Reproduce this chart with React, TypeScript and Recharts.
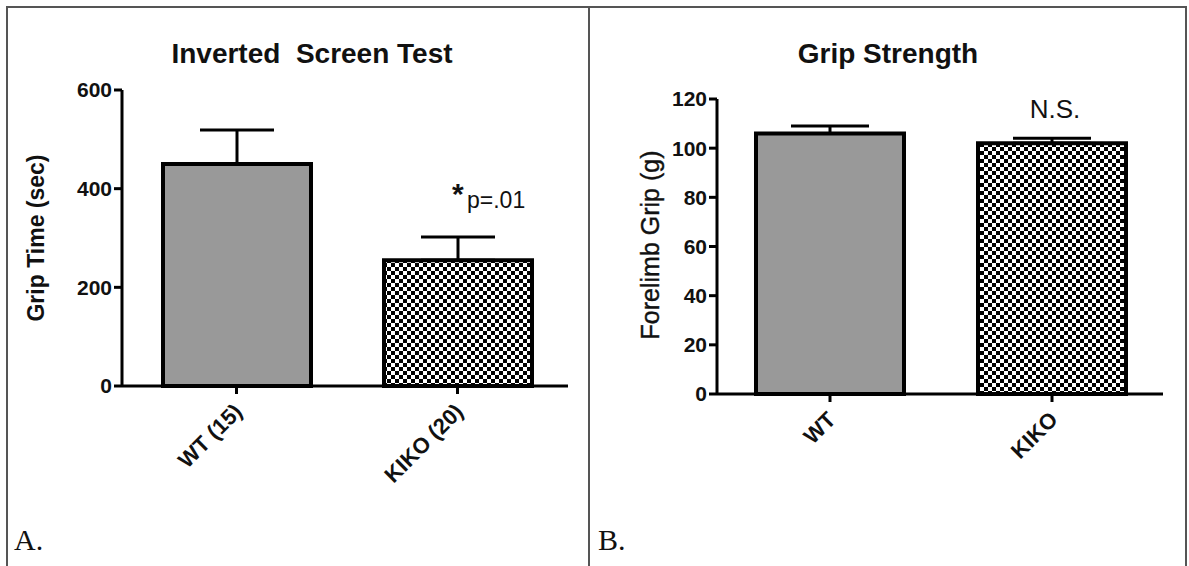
import { BarChart, Bar, XAxis, YAxis, ErrorBar, Cell } from "recharts";

// A. Inverted screen test
const screenGroups = ["WT (15)", "KIKO (20)"];
const screenMeans = [450, 255];
const screenSem = [69, 47];
const screenTicks = [0, 200, 400, 600];

// B. Grip strength
const gripGroups = ["WT", "KIKO"];
const gripMeans = [106, 102];
const gripSem = [3, 2];
const gripTicks = [0, 20, 40, 60, 80, 100, 120];

const FONT = "'Liberation Sans', Arial, sans-serif";
const GRAY = "#999999";

const screenData = screenGroups.map((name, i) => ({
  name,
  mean: screenMeans[i],
  err: [0, screenSem[i]],
}));
const gripData = gripGroups.map((name, i) => ({
  name,
  mean: gripMeans[i],
  err: [0, gripSem[i]],
}));

const SlantTick = ({ x, y, payload }: any) => (
  <g transform={`translate(${x + 7},${y + 17})`}>
    <text
      transform="rotate(-45)"
      textAnchor="end"
      fontFamily={FONT}
      fontWeight="bold"
      fontSize={22}
      fill="#111"
    >
      {payload.value}
    </text>
  </g>
);

const axisLine = { stroke: "#000", strokeWidth: 3 };
const yTick = { fontFamily: FONT, fontWeight: "bold", fontSize: 21, fill: "#111" };

const Checker = ({ id }: { id: string }) => (
  <defs>
    <pattern id={id} width={8} height={8} patternUnits="userSpaceOnUse">
      <rect width={8} height={8} fill="#fff" />
      <rect width={4} height={4} fill="#000" />
      <rect x={4} y={4} width={4} height={4} fill="#000" />
    </pattern>
  </defs>
);

const App = () => {
  return (
    <div
      style={{
        position: "absolute",
        left: 0,
        top: 0,
        width: 1189,
        height: 566,
        background: "#fff",
        overflow: "hidden",
      }}
    >
      {/* panel frames */}
      <div
        style={{
          position: "absolute",
          left: 6,
          top: 6,
          width: 1177,
          height: 600,
          border: "2px solid #555",
        }}
      />
      <div
        style={{
          position: "absolute",
          left: 588,
          top: 6,
          width: 2,
          height: 600,
          background: "#555",
        }}
      />

      <div style={{ position: "absolute", left: 7, top: 7 }}>
        <BarChart
          width={581}
          height={558}
          data={screenData}
          margin={{ top: 83, right: 20, left: 55, bottom: 79 }}
        >
          <Checker id="checkA" />
          <XAxis
            dataKey="name"
            height={100}
            padding={{ left: 4, right: 0 }}
            interval={0}
            tick={<SlantTick />}
            tickSize={8}
            axisLine={axisLine}
            tickLine={axisLine}
          />
          <YAxis
            domain={[0, 600]}
            ticks={screenTicks}
            interval={0}
            width={60}
            tick={yTick}
            tickSize={8}
            axisLine={axisLine}
            tickLine={axisLine}
          />
          <Bar
            dataKey="mean"
            barSize={148}
            stroke="#000"
            strokeWidth={4}
            isAnimationActive={false}
          >
            <Cell fill={GRAY} />
            <Cell fill="url(#checkA)" />
            <ErrorBar
              dataKey="err"
              direction="y"
              width={37}
              stroke="#000"
              strokeWidth={3}
              isAnimationActive={false}
            />
          </Bar>
        </BarChart>
      </div>

      <div style={{ position: "absolute", left: 588, top: 7 }}>
        <BarChart
          width={595}
          height={558}
          data={gripData}
          margin={{ top: 92, right: 20, left: 69, bottom: 71 }}
        >
          <Checker id="checkB" />
          <XAxis
            dataKey="name"
            height={100}
            padding={{ left: 2, right: 0 }}
            interval={0}
            tick={<SlantTick />}
            tickSize={8}
            axisLine={axisLine}
            tickLine={axisLine}
          />
          <YAxis
            domain={[0, 120]}
            ticks={gripTicks}
            interval={0}
            width={60}
            tick={yTick}
            tickSize={8}
            axisLine={axisLine}
            tickLine={axisLine}
          />
          <Bar
            dataKey="mean"
            barSize={148}
            stroke="#000"
            strokeWidth={4}
            isAnimationActive={false}
          >
            <Cell fill={GRAY} />
            <Cell fill="url(#checkB)" />
            <ErrorBar
              dataKey="err"
              direction="y"
              width={39}
              stroke="#000"
              strokeWidth={3}
              isAnimationActive={false}
            />
          </Bar>
        </BarChart>
      </div>

      {/* titles and annotations */}
      <svg
        width={1189}
        height={566}
        style={{ position: "absolute", left: 0, top: 0, pointerEvents: "none" }}
      >
        <g fontFamily={FONT} fill="#111">
          <text x={312} y={63} textAnchor="middle" fontWeight="bold" fontSize={28} xmlSpace="preserve">
            Inverted  Screen Test
          </text>
          <text x={888} y={63} textAnchor="middle" fontWeight="bold" fontSize={28}>
            Grip Strength
          </text>
          <text
            transform="translate(44,238) rotate(-90)"
            textAnchor="middle"
            fontWeight="bold"
            fontSize={23}
          >
            Grip Time (sec)
          </text>
          <text
            transform="translate(659,245) rotate(-90)"
            textAnchor="middle"
            fontSize={25}
            stroke="#111"
            strokeWidth={0.4}
          >
            Forelimb Grip (g)
          </text>
          <text x={452} y={204} fontWeight="bold" fontSize={30}>
            *
          </text>
          <text x={467} y={208} fontSize={23}>
            p=.01
          </text>
          <text x={1055} y={118} textAnchor="middle" fontSize={26}>
            N.S.
          </text>
        </g>
        <g fontFamily="'Liberation Serif', 'DejaVu Serif', serif" fill="#111" fontSize={30}>
          <text x={14} y={550}>A.</text>
          <text x={598} y={550}>B.</text>
        </g>
      </svg>
    </div>
  );
};

export default App;
